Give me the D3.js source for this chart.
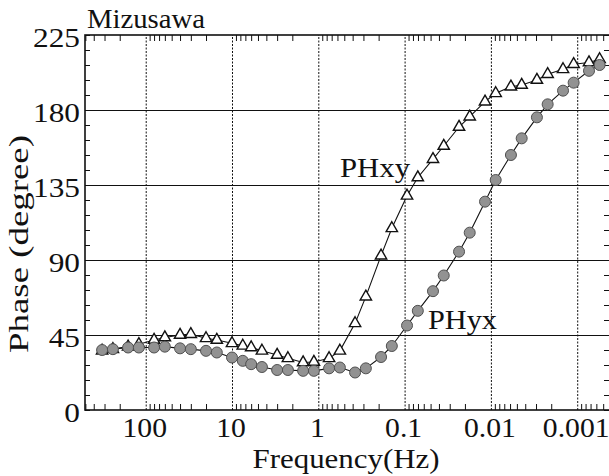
<!DOCTYPE html>
<html>
<head>
<meta charset="utf-8">
<script src="https://cdn.jsdelivr.net/npm/d3@7"></script>
<style>
  body { margin: 0; background: #fff; }
  text { font-family: "Liberation Serif", "Times New Roman", serif; fill: #111; }
</style>
</head>
<body>
<svg width="609" height="476"></svg>
<script>
// frequencies (Hz) of the sounding
var freqs = [320, 240, 160, 120, 80, 60, 40, 30, 20, 15, 10, 7.5, 6, 4.5, 3, 2.25,
  1.5, 1.125, 0.75, 0.5625, 0.375, 0.28125, 0.1875, 0.140625, 0.09375, 0.0703,
  0.0469, 0.0352, 0.0234, 0.0176, 0.0117, 0.0088, 0.00586, 0.0044, 0.00293,
  0.0022, 0.00146, 0.0011, 0.00073, 0.00055];

// phase in degrees
var phXY = [35.5, 36.5, 38, 39.5, 42, 43.5, 45, 45.5, 43, 42, 40, 38.5, 37.5, 35.5,
  33, 31, 28.5, 28.8, 31, 35.5, 52, 68, 92.6, 109, 128.5, 139.5, 150.5, 158.4,
  169.8, 176, 185, 190, 194, 195, 198, 201.5, 204.4, 207.5, 208.5, 210.4];
var phYX = [36, 36.5, 37.5, 37.5, 37.5, 38, 37, 36.5, 35.5, 34.5, 31.5, 29.5, 27.5,
  25.8, 24, 24, 23.5, 23.5, 25, 25.5, 22.5, 25, 31.8, 38.4, 50.7, 59.5, 71.3, 80.7,
  95, 106.4, 125, 138, 153, 163, 175.6, 183.4, 191.6, 196.4, 203.5, 207];

var yTicks = [0, 45, 90, 135, 180, 225];
var xTicks = [100, 10, 1, 0.1, 0.01, 0.001];
var xTickLabels = ["100", "10", "1", "0.1", "0.01", "0.001"];

var svg = d3.select("svg");
var plotLeft = 85, plotRight = 610, plotTop = 35, plotBottom = 410;

//  reversed log axis: high frequency on the left
var xScale = d3.scaleLog([Math.pow(10, 2.7034), Math.pow(10, -3.380)], [plotLeft, plotRight]);
var yScale = d3.scaleLinear([0, 225], [plotBottom, plotTop]);

//  minor tick positions 2..9 in every decade
var minorX = [];
for (var d = -4; d <= 2; d++) {
  for (var m = 2; m <= 9; m++) {
    var v = m * Math.pow(10, d);
    if (v <= xScale.domain()[0] && v >= xScale.domain()[1]) minorX.push(v);
  }
}
var minorY = d3.range(0, 226, 9);

function clean(g) {
  g.select(".domain").remove();
  g.selectAll("text").remove();
  g.selectAll("line").attr("stroke", "#111");
}

// vertical grid at decades (dotted)
svg.append("g")
  .attr("transform", `translate(0, ${plotBottom})`)
  .call(d3.axisBottom(xScale).tickValues(xTicks).tickSize(-(plotBottom - plotTop)))
  .call(clean)
  .selectAll("line").attr("stroke-dasharray", "2,1.5").attr("stroke-width", 1);

// horizontal grid
svg.append("g")
  .attr("transform", `translate(${plotLeft}, 0)`)
  .call(d3.axisLeft(yScale).tickValues([45, 90, 135, 180]).tickSize(-(plotRight - plotLeft)))
  .call(clean)
  .selectAll("line").attr("stroke-width", 1.2);

// minor ticks, pointing inward
svg.append("g").attr("transform", `translate(0, ${plotBottom})`)
  .call(d3.axisBottom(xScale).tickValues(minorX).tickSize(-6)).call(clean);
svg.append("g").attr("transform", `translate(0, ${plotTop})`)
  .call(d3.axisTop(xScale).tickValues(minorX).tickSize(-6)).call(clean);
svg.append("g").attr("transform", `translate(${plotLeft}, 0)`)
  .call(d3.axisLeft(yScale).tickValues(minorY).tickSize(-5)).call(clean);
svg.append("g").attr("transform", `translate(${plotRight}, 0)`)
  .call(d3.axisRight(yScale).tickValues(minorY).tickSize(-6)).call(clean);

// frame
svg.append("rect")
  .attr("x", plotLeft).attr("y", plotTop)
  .attr("width", plotRight - plotLeft).attr("height", plotBottom - plotTop)
  .attr("fill", "none").attr("stroke", "#111").attr("stroke-width", 1.6);

// tick labels
svg.append("g").selectAll("text").data(yTicks).enter().append("text")
  .attr("transform", function (d) { return `translate(80, ${yScale(d) + 12}) scale(1.12, 1)`; })
  .attr("text-anchor", "end")
  .style("font-size", "28px")
  .text(function (d) { return d; });

svg.append("g").selectAll("text").data(xTicks).enter().append("text")
  .attr("transform", function (d) { return `translate(${xScale(d) - 1}, 437) scale(1.06, 1)`; })
  .attr("text-anchor", "middle")
  .style("font-size", "28px")
  .text(function (d, i) { return xTickLabels[i]; });

// axis titles and labels
svg.append("text")
  .attr("x", 346).attr("y", 468)
  .attr("text-anchor", "middle")
  .attr("textLength", 187).attr("lengthAdjust", "spacingAndGlyphs")
  .style("font-size", "27px")
  .text("Frequency(Hz)");

svg.append("text")
  .attr("transform", "translate(28, 244) rotate(-90)")
  .attr("text-anchor", "middle")
  .attr("textLength", 218).attr("lengthAdjust", "spacingAndGlyphs")
  .style("font-size", "28px")
  .text("Phase (degree)");

svg.append("text")
  .attr("x", 87).attr("y", 28)
  .attr("textLength", 118).attr("lengthAdjust", "spacingAndGlyphs")
  .style("font-size", "27px")
  .text("Mizusawa");

svg.append("text")
  .attr("x", 340).attr("y", 177)
  .attr("textLength", 70).attr("lengthAdjust", "spacingAndGlyphs")
  .style("font-size", "28px")
  .text("PHxy");

svg.append("text")
  .attr("x", 428).attr("y", 329)
  .attr("textLength", 69).attr("lengthAdjust", "spacingAndGlyphs")
  .style("font-size", "28px")
  .text("PHyx");

// series
var xyData = freqs.map(function (f, i) { return { f: f, v: phXY[i] }; });
var yxData = freqs.map(function (f, i) { return { f: f, v: phYX[i] }; });

var line = d3.line()
  .x(function (d) { return xScale(d.f); })
  .y(function (d) { return yScale(d.v); });

svg.append("path").datum(xyData).attr("d", line)
  .attr("fill", "none").attr("stroke", "#111").attr("stroke-width", 1.1);
svg.append("path").datum(yxData).attr("d", line)
  .attr("fill", "none").attr("stroke", "#111").attr("stroke-width", 1.1);

svg.append("g").selectAll("path").data(xyData).enter().append("path")
  .attr("d", d3.symbol(d3.symbolTriangle, 56))
  .attr("transform", function (d) { return `translate(${xScale(d.f)}, ${yScale(d.v)})`; })
  .attr("fill", "#fff").attr("stroke", "#111").attr("stroke-width", 1.4);

svg.append("g").selectAll("circle").data(yxData).enter().append("circle")
  .attr("cx", function (d) { return xScale(d.f); })
  .attr("cy", function (d) { return yScale(d.v); })
  .attr("r", 5.5)
  .attr("fill", "#929292").attr("stroke", "#505050").attr("stroke-width", 1);
</script>
</body>
</html>
